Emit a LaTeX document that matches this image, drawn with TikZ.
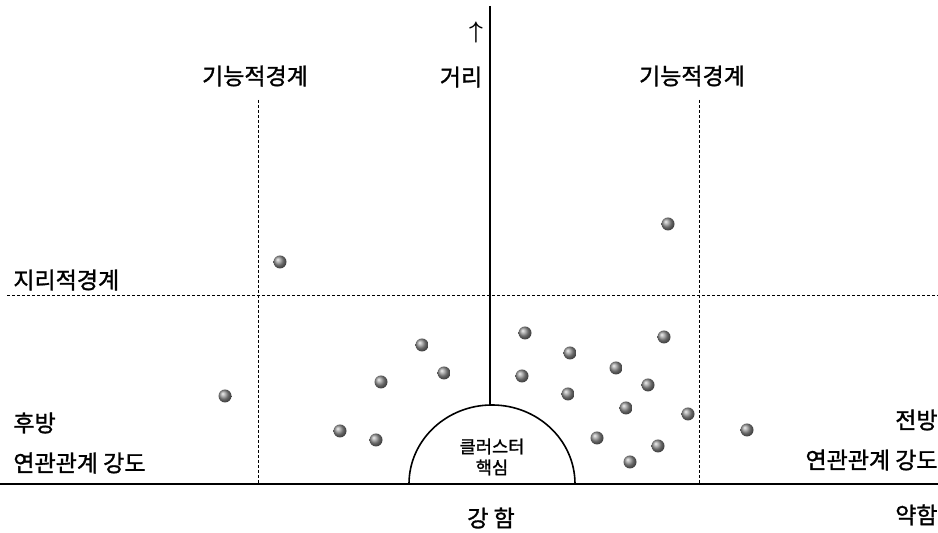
\documentclass[tikz,border=0pt]{standalone}
\usepackage{fontspec}
\newfontfamily\krfont[FakeBold=1.3]{Noto Sans CJK KR}
\usetikzlibrary{positioning}

\begin{document}
\begin{tikzpicture}[x=0.5pt,y=0.5pt,
  lab/.style={font=\krfont\fontsize{11.5}{14}\selectfont,inner sep=0pt},
  corelab/.style={font=\krfont\fontsize{8.8}{10.5}\selectfont,align=center,inner sep=0pt},
  bound/.style={line width=0.5pt,dash pattern=on 1.5pt off 1pt},
  ax/.style={line width=0.8pt},
  ball/.style={circle,inner sep=0pt,minimum size=6.5pt,ball color=gray!85}]
\useasboundingbox (0,0) rectangle (938,533);
% axes and boundaries
\coordinate (bl) at (0,49); \coordinate (br) at (938,49);
\coordinate (top) at (490,527); \coordinate (dometop) at (490,128);
\coordinate (fl1) at (258,433); \coordinate (fl2) at (258,49);
\coordinate (fr1) at (699,433); \coordinate (fr2) at (699,49);
\coordinate (gl) at (7,237); \coordinate (gr) at (938,237);
\draw[ax] (bl) -- (br);
\draw[ax] (top) -- (dometop);
\draw[bound] (fl1) -- (fl2); \draw[bound] (fr1) -- (fr2); \draw[bound] (gl) -- (gr);
\draw[ax] (409,49) arc[start angle=180,end angle=0,x radius=83,y radius=79];
\node[corelab] (core) at (492,76) {클러스터\\핵심};
% labels
\node[lab] (funcl) at (255,457) {기능적경계};
\node[lab] (funcr) at (692,457) {기능적경계};
\node[lab] (dist) at (461,456) {거리};
\node[inner sep=0pt,font=\fontsize{13}{15}\selectfont\boldmath] (up) at (476,500) {$\uparrow$};
\node[lab,anchor=west] (geo) at (13,253) {지리적경계};
\node[lab,anchor=west] (back) at (13,110) {후방};
\node[lab,anchor=west] (backlink) at (13,70) {연관관계 강도};
\node[lab,anchor=east] (fwd) at (938,113) {전방};
\node[lab,anchor=east] (fwdlink) at (938,73) {연관관계 강도};
\node[lab] (strong) at (491,15) {강 함};
\node[lab,anchor=east] (weak) at (938,18) {약함};
% firms
\node[ball] (f1) at (668,309) {}; \node[ball] (f2) at (280,271) {}; \node[ball] (f3) at (525,200) {};
\node[ball] (f4) at (422,188) {}; \node[ball] (f5) at (570,180) {}; \node[ball] (f6) at (664,196) {};
\node[ball] (f7) at (381,151) {}; \node[ball] (f8) at (444,160) {}; \node[ball] (f9) at (522,157) {};
\node[ball] (f10) at (616,165) {}; \node[ball] (f11) at (648,148) {}; \node[ball] (f12) at (568,139) {};
\node[ball] (f13) at (225,137) {}; \node[ball] (f14) at (626,125) {}; \node[ball] (f15) at (688,119) {};
\node[ball] (f16) at (340,102) {}; \node[ball] (f17) at (376,93) {}; \node[ball] (f18) at (597,95) {};
\node[ball] (f19) at (658,87) {}; \node[ball] (f20) at (630,71) {}; \node[ball] (f21) at (747,103) {};
\end{tikzpicture}
\end{document}
